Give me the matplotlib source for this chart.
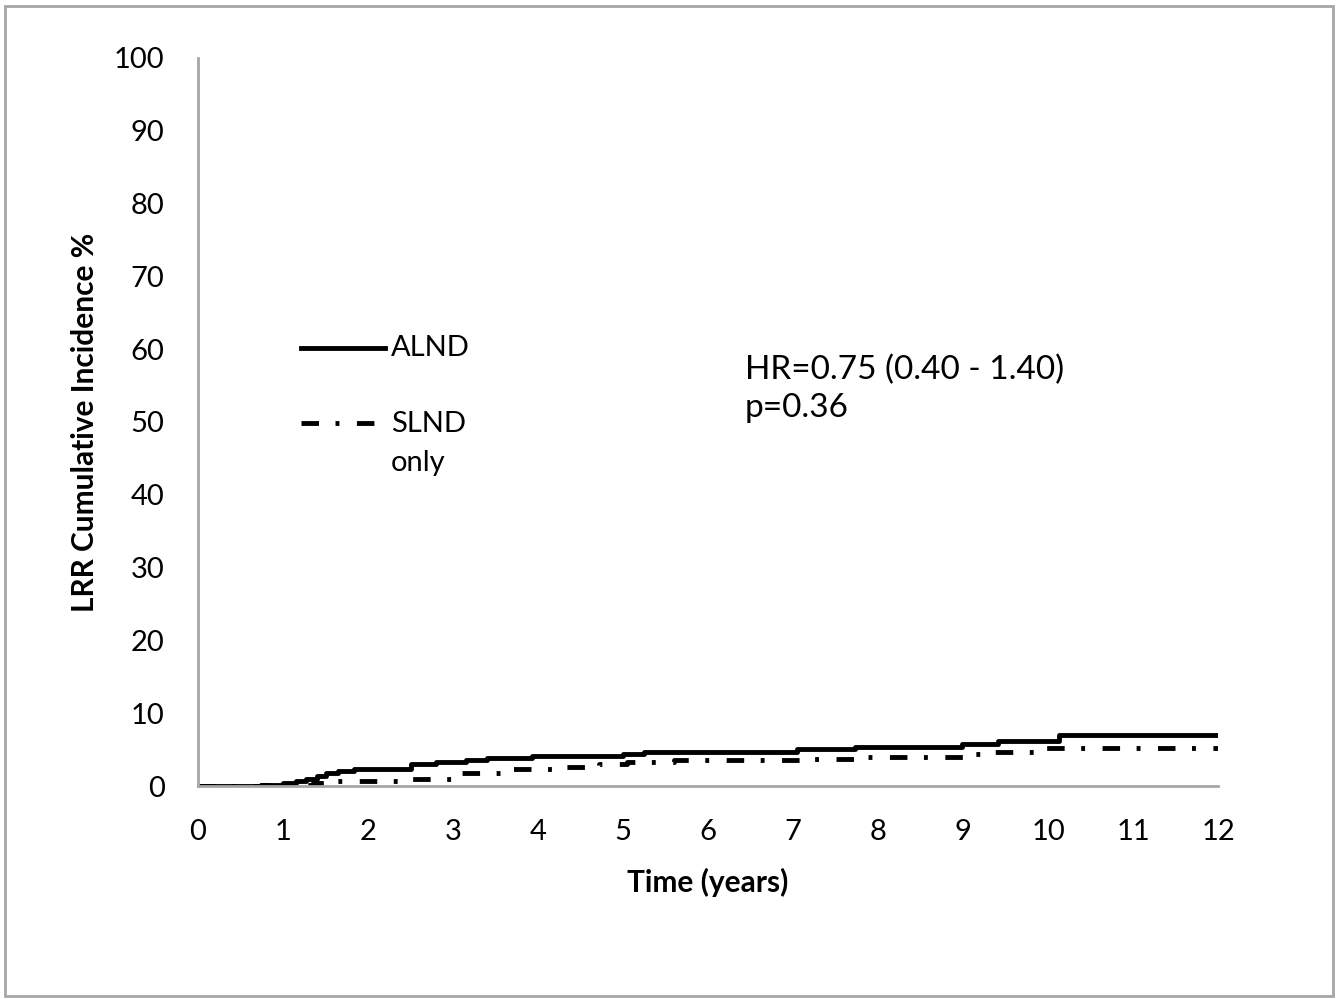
import matplotlib.pyplot as plt
from matplotlib.patches import Rectangle

plt.rcParams['font.family'] = ['Lato', 'DejaVu Sans']

# ALND: tiempos (años) y incidencia acumulada (%) en escalera
alnd_t = [0, 0.74, 1.0, 1.15, 1.27, 1.4, 1.5, 1.65, 1.84, 2.5, 2.8, 3.15, 3.4, 3.93,
          5.0, 5.25, 7.05, 7.73, 8.99, 9.41, 10.12, 12.0]
alnd_y = [0, 0.2, 0.4, 0.7, 1.0, 1.4, 1.8, 2.1, 2.4, 3.0, 3.3, 3.6, 3.8, 4.1,
          4.4, 4.7, 5.1, 5.4, 5.8, 6.2, 7.0, 7.0]

# SLND only
slnd_t = [0, 0.74, 1.1, 1.35, 1.6, 2.5, 3.07, 3.66, 4.2, 4.72, 5.04, 5.6,
          7.2, 7.8, 9.08, 9.35, 9.9, 12.0]
slnd_y = [0, 0.1, 0.2, 0.4, 0.7, 1.0, 1.8, 2.3, 2.6, 3.0, 3.3, 3.6,
          3.7, 4.0, 4.4, 4.7, 5.2, 5.2]

xticks = list(range(0, 13))
yticks = list(range(0, 101, 10))

DASH = (3.6, 3.4, 0.8, 3.6)

fig = plt.figure(figsize=(13.42, 9.99), dpi=100)
fig.patches.append(Rectangle((0.004, 0.003), 0.989, 0.991, transform=fig.transFigure,
                             fill=False, edgecolor='#a6a6a6', linewidth=2))
ax = fig.add_axes([0.1475, 0.2132, 0.7604, 0.7288])

ax.step(alnd_t, alnd_y, where='post', color='black', linewidth=3.5, solid_capstyle='butt')
ax.step(slnd_t, slnd_y, where='post', color='black', linewidth=3.5, dashes=DASH)

ax.set_xlim(0, 12)
ax.set_ylim(0, 100)
ax.set_xticks(xticks)
ax.set_yticks(yticks)
ax.tick_params(length=0, labelsize=21)
ax.tick_params(axis='x', pad=24)
ax.tick_params(axis='y', pad=24)
for s in ['top', 'right']:
    ax.spines[s].set_visible(False)
for s in ['left', 'bottom']:
    ax.spines[s].set_color('#a6a6a6')
    ax.spines[s].set_linewidth(2)

ax.set_xlabel('Time (years)', fontsize=21.5, fontweight='bold', labelpad=16)
ax.set_ylabel('LRR Cumulative Incidence %', fontsize=21.5, fontweight='bold', labelpad=11)

# leyenda manual
ax.plot([0.101, 0.183], [0.602, 0.602], transform=ax.transAxes, color='black', linewidth=3.5)
ax.text(0.189, 0.602, 'ALND', transform=ax.transAxes, fontsize=21, va='center')
ax.plot([0.101, 0.173], [0.499, 0.499], transform=ax.transAxes, color='black',
        linewidth=3.5, dashes=DASH)
ax.text(0.189, 0.515, 'SLND\nonly', transform=ax.transAxes, fontsize=21, va='top',
        linespacing=1.6)
ax.text(0.536, 0.593, 'HR=0.75 (0.40 - 1.40)\np=0.36', transform=ax.transAxes,
        fontsize=24, va='top', linespacing=1.35)

fig.savefig('out.png', dpi=100)
